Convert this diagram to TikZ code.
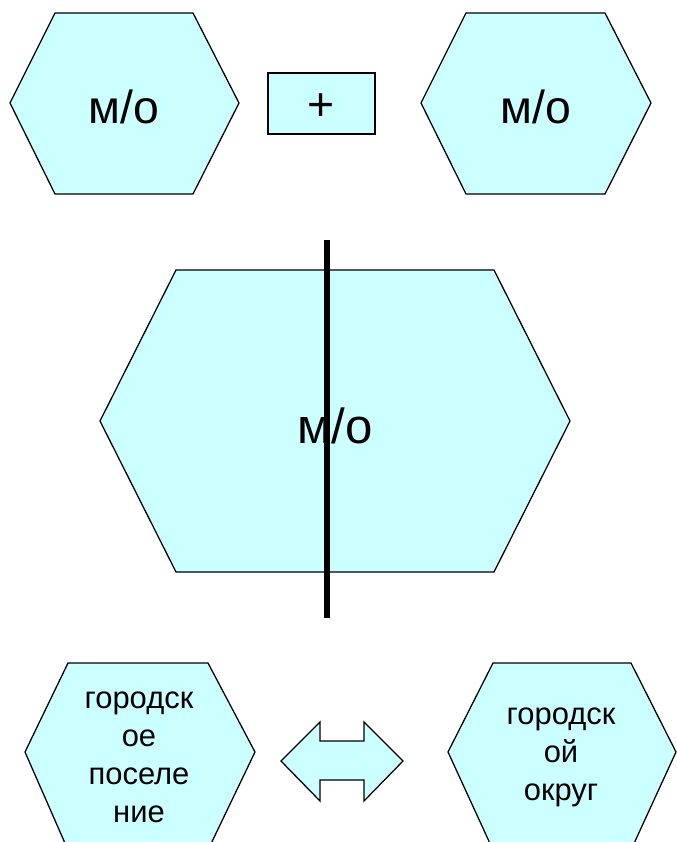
\documentclass[tikz,border=0pt]{standalone}
\usepackage{fontspec}
\setmainfont{Liberation Sans}
\definecolor{hexfill}{HTML}{CCFFFF}
\tikzset{
  hexa/.style={draw, fill=hexfill, line width=0.9pt, line join=miter},
  bigtext/.style={font=\fontsize{33}{38}\selectfont, inner sep=0pt},
  smalltext/.style={font=\fontsize{22}{27}\selectfont, align=center, inner sep=0pt}
}
\begin{document}
\begin{tikzpicture}[x=0.025cm, y=-0.025cm]
    \useasboundingbox (0,0) rectangle (677,842);
    % Upper row
    \draw [hexa] (10,103) -- (55,13) -- (193,13) -- (239,103) -- (193,194) -- (55,194) -- cycle;
    \draw [hexa] (268,73) rectangle (375,134);
    \draw [hexa] (421,103) -- (466,13) -- (605,13) -- (651,103) -- (605,194) -- (466,194) -- cycle;
    \node [bigtext] (mo1) at (124,107) {м/о};
    \node [bigtext] (plus) at (321,107) {+};
    \node [bigtext] (mo2) at (536,107) {м/о};
    % Big hexagon
    \draw [hexa] (100,421) -- (176,270) -- (494,270) -- (570,421) -- (494,572) -- (176,572) -- cycle;
    \node [bigtext, font=\fontsize{35}{40}\selectfont] (mobig) at (335,426) {м/о};
    \coordinate (cutT) at (327,240);
    \coordinate (cutB) at (327,618);
    \draw [line width=4pt] (cutT) -- (cutB);
    % Lower row
    \draw [hexa] (25,752) -- (68,663) -- (208,663) -- (255,752) -- (208,850) -- (68,850) -- cycle;
    \draw [hexa] (448,752) -- (493,663) -- (631,663) -- (676,752) -- (631,850) -- (493,850) -- cycle;
    \draw [hexa] (281,761) -- (320,722) -- (320,741) -- (364,741) -- (364,722) -- (403,761)
        -- (364,801) -- (364,780) -- (320,780) -- (320,801) -- cycle;
    \node [smalltext] (gp) at (139,757) {городск\\ое\\поселе\\ние};
    \node [smalltext] (go) at (561,757) {городск\\ой\\округ};
\end{tikzpicture}
\end{document}
